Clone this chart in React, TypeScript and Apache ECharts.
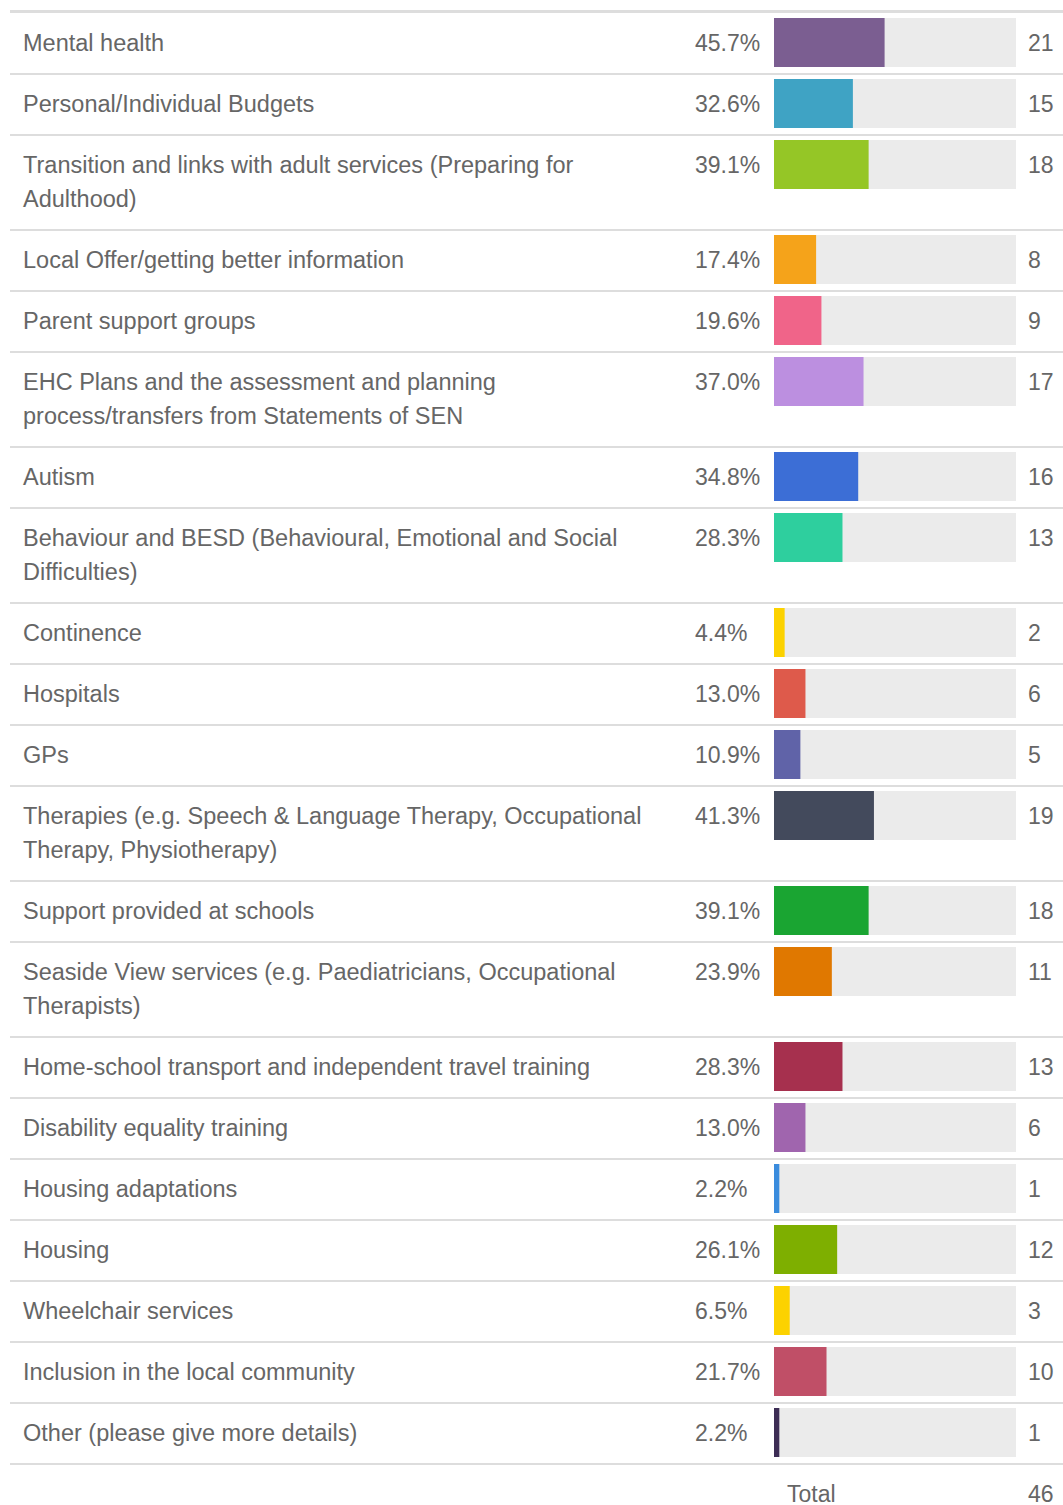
import React, { useEffect, useRef } from "react";
import * as echarts from "echarts";

const categories: string[] = [
  "Mental health",
  "Personal/Individual Budgets",
  "Transition and links with adult services (Preparing for\nAdulthood)",
  "Local Offer/getting better information",
  "Parent support groups",
  "EHC Plans and the assessment and planning\nprocess/transfers from Statements of SEN",
  "Autism",
  "Behaviour and BESD (Behavioural, Emotional and Social\nDifficulties)",
  "Continence",
  "Hospitals",
  "GPs",
  "Therapies (e.g. Speech & Language Therapy, Occupational\nTherapy, Physiotherapy)",
  "Support provided at schools",
  "Seaside View services (e.g. Paediatricians, Occupational\nTherapists)",
  "Home-school transport and independent travel training",
  "Disability equality training",
  "Housing adaptations",
  "Housing",
  "Wheelchair services",
  "Inclusion in the local community",
  "Other (please give more details)",
];

const percents: number[] = [
  45.7, 32.6, 39.1, 17.4, 19.6, 37.0, 34.8, 28.3, 4.4, 13.0, 10.9, 41.3, 39.1,
  23.9, 28.3, 13.0, 2.2, 26.1, 6.5, 21.7, 2.2,
];

const counts: number[] = [
  21, 15, 18, 8, 9, 17, 16, 13, 2, 6, 5, 19, 18, 11, 13, 6, 1, 12, 3, 10, 1,
];

const barColors: string[] = [
  "#7B5E91", "#3FA3C4", "#95C626", "#F5A31A", "#F06489", "#BC8FE0", "#3C6ED6",
  "#2ECF9E", "#FCD200", "#DE5A4B", "#6063A8", "#434A5C", "#1AA532", "#E07800",
  "#A6304E", "#A065AE", "#3A8CDD", "#7EAF00", "#FCD200", "#C04F67", "#3D2D55",
];

const totalLabel = "Total";
const totalCount = 46;

const FONT_FAMILY = "Arial, 'Liberation Sans', Helvetica, sans-serif";
const FONT_SIZE = 23;
const LABEL_FONT_SIZE = 23.5;
const TEXT_COLOR = "#666666";
const ROW_H = 61;
const LINE_H = 34;

export default function App() {
  const ref = useRef<HTMLDivElement>(null);

  useEffect(() => {
    if (!ref.current) return;
    const chart = echarts.init(ref.current, undefined, { renderer: "svg" });

    // row offsets derived from label line counts
    const rows: number[][] = [];
    let acc = 0;
    categories.forEach((c, i) => {
      const lines = c.split("\n").length;
      const h = ROW_H + (lines - 1) * LINE_H;
      rows.push([percents[i], acc, h, i]);
      acc += h;
    });
    const totalH = acc;
    const gridTop = 13;

    const baseText = {
      fontFamily: FONT_FAMILY,
      fontSize: FONT_SIZE,
      fill: TEXT_COLOR,
    };

    const option: any = {
      animation: false,
      grid: { left: 774, top: gridTop, width: 242, height: totalH },
      xAxis: { type: "value", min: 0, max: 100, show: false },
      yAxis: { type: "value", min: 0, max: totalH, inverse: true, show: false },
      graphic: [
        {
          type: "line",
          shape: { x1: 10, y1: 11.5, x2: 1063, y2: 11.5 },
          style: { stroke: "#dddddd", lineWidth: 3 },
          silent: true,
        },
        {
          type: "text",
          x: 787,
          y: gridTop + totalH + 1 + 29,
          style: { ...baseText, text: totalLabel, verticalAlign: "middle" },
        },
        {
          type: "text",
          x: 1028,
          y: gridTop + totalH + 1 + 29,
          style: { ...baseText, text: String(totalCount), verticalAlign: "middle" },
        },
      ],
      series: [
        {
          type: "custom",
          silent: true,
          clip: false,
          encode: { x: 0, y: 1 },
          data: rows,
          renderItem: (params: any, api: any) => {
            const pct = api.value(0);
            const yTop = api.value(1);
            const h = api.value(2);
            const idx = api.value(3);
            const start = api.coord([0, yTop]);
            const end = api.coord([100, yTop]);
            const valPt = api.coord([pct, yTop]);
            const bottom = api.coord([0, yTop + h])[1];
            const top = start[1];
            const textStyle = {
              ...baseText,
              verticalAlign: "top",
              lineHeight: LINE_H,
            };
            return {
              type: "group",
              children: [
                {
                  type: "rect",
                  shape: { x: start[0], y: top + 5, width: end[0] - start[0], height: 49 },
                  style: { fill: "#ebebeb" },
                },
                {
                  type: "rect",
                  shape: { x: start[0], y: top + 5, width: valPt[0] - start[0], height: 49 },
                  style: { fill: barColors[idx] },
                },
                {
                  type: "line",
                  shape: { x1: 10, y1: bottom, x2: 1063, y2: bottom },
                  style: { stroke: "#dddddd", lineWidth: 2 },
                },
                {
                  type: "text",
                  x: 23,
                  y: top + 13,
                  style: { ...textStyle, fontSize: LABEL_FONT_SIZE, text: categories[idx] },
                },
                {
                  type: "text",
                  x: 695,
                  y: top + 13,
                  style: { ...textStyle, text: percents[idx].toFixed(1) + "%" },
                },
                {
                  type: "text",
                  x: 1028,
                  y: top + 13,
                  style: { ...textStyle, text: String(counts[idx]) },
                },
              ],
            };
          },
        },
      ],
    };
    chart.setOption(option);
    return () => chart.dispose();
  }, []);

  return (
    <div
      ref={ref}
      style={{ position: "absolute", left: 0, top: 0, width: 1063, height: 1505, background: "#fff" }}
    />
  );
}
